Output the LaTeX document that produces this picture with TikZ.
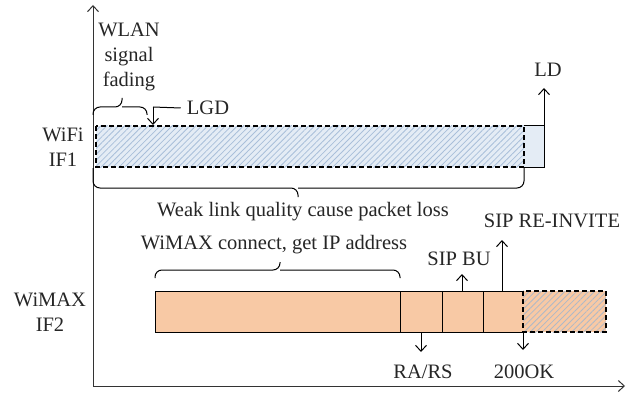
\documentclass[tikz,border=0pt]{standalone}
\usepackage{fontspec}
\setmainfont{Liberation Serif}
\usetikzlibrary{arrows.meta,patterns.meta}
\definecolor{wifiblue}{HTML}{E4ECF5}
\definecolor{hatchblue}{HTML}{A9BFDA}
\definecolor{wimaxorange}{HTML}{F8C9A5}
\definecolor{hatchgray}{HTML}{AEB9C8}
\tikzset{
  lbl/.style={font=\fontsize{20.5}{25}\selectfont, text=black!85, inner sep=0pt, align=center},
  sig/.style={line width=1pt, -{Straight Barb[length=6pt,width=11pt]}},
  curly/.style={line width=1pt, rounded corners=7pt},
  lost/.style={line width=1.1pt, dash pattern=on 5pt off 3pt},
  hatch/.style={pattern={Lines[angle=45,distance=4.2pt,line width=0.8pt]}, pattern color=#1},
}

\begin{document}
\begin{tikzpicture}[x=1pt,y=-1pt]
\useasboundingbox (0,0) rectangle (637,393);
% axes
\coordinate (origin) at (93,386);
\coordinate (ytop) at (93,5);
\coordinate (xend) at (625,386);
\draw[sig, black!80] (origin) -- (ytop);
\draw[sig, black!80] (origin) -- (xend);

% WiFi interface
\node[lbl] (wifi) at (63,147) {WiFi\\IF1};
\fill[wifiblue] (96,126) rectangle (544,167);
\fill[hatch=hatchblue] (96,126) rectangle (524,167);
\draw[line width=1pt] (524,126) -- (544,126) -- (544,167) -- (524,167);
\draw[lost] (96,126) rectangle (524,167);

\node[lbl] (fading) at (129,57) {WLAN\\signal\\fading};
\draw[curly] (93,115) -- (93,107) -- (122,107) -- (122,98);
\draw[curly] (147,115) -- (147,107) -- (122,107);

\node[lbl] (lgd) at (208,108) {LGD};
\coordinate (lgdknee) at (153,107);
\coordinate (lgdhit) at (153,125);
\draw[line width=1pt] (lgd.west) ++(-6,0) -- (lgdknee);
\draw[sig] (lgdknee) -- (lgdhit);

\node[lbl] (ld) at (548,70) {LD};
\coordinate (ldfoot) at (544,126);
\coordinate (ldtip) at (544,88);
\draw[sig] (ldfoot) -- (ldtip);

\draw[curly] (93,168) -- (93,188) -- (298,188) -- (298,197);
\draw[curly] (524,168) -- (524,188) -- (298,188);
\node[lbl] (weak) at (303,212) {Weak link quality cause packet loss};

% WiMAX interface
\node[lbl] (wimax) at (50,312) {WiMAX\\IF2};
\node[lbl] (connect) at (274,245) {WiMAX connect, get IP address};
\draw[curly] (155,278) -- (155,270) -- (280,270) -- (280,262);
\draw[curly] (400,278) -- (400,270) -- (280,270);

\fill[wimaxorange] (155,291) rectangle (606,332);
\fill[hatch=hatchgray] (523,291) rectangle (606,332);
\draw[line width=1pt] (523,291) -- (155,291) -- (155,332) -- (523,332);
\foreach \x in {400,442,483}
  \draw[line width=1pt] (\x,291) -- (\x,332);
\draw[lost] (523,291) rectangle (606,332);

\node[lbl] (rars) at (423,372) {RA/RS};
\coordinate (rafoot) at (421,332);
\coordinate (ratip) at (421,352);
\draw[sig] (rafoot) -- (ratip);

\node[lbl] (okmsg) at (524,372) {200OK};
\coordinate (okfoot) at (523,332);
\coordinate (oktip) at (523,350);
\draw[sig] (okfoot) -- (oktip);

\node[lbl] (sipbu) at (459,259) {SIP BU};
\coordinate (bufoot) at (462,291);
\coordinate (butip) at (462,274);
\draw[sig] (bufoot) -- (butip);

\node[lbl] (reinvite) at (552,221) {SIP RE-INVITE};
\coordinate (refoot) at (502,291);
\coordinate (retip) at (502,240);
\draw[sig] (refoot) -- (retip);
\end{tikzpicture}
\end{document}
